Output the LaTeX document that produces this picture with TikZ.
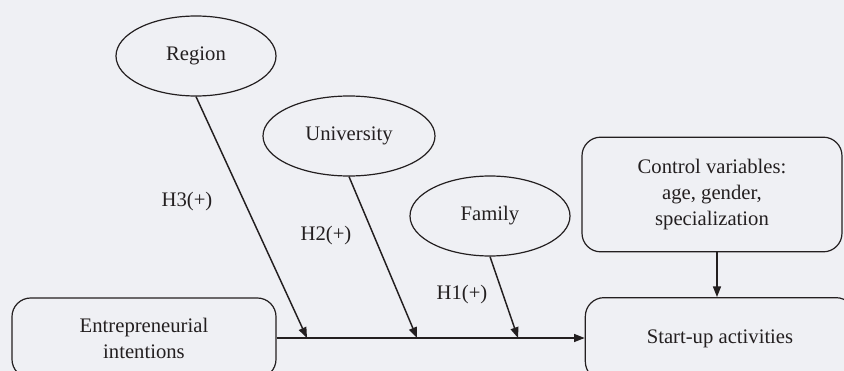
\documentclass[tikz,border=0pt]{standalone}
\usepackage{fontspec}
\setmainfont{Liberation Serif}
\usetikzlibrary{shapes.geometric,arrows.meta}
\definecolor{bg}{HTML}{EFF0F4}
\definecolor{ink}{HTML}{231F20}
\begin{document}
\begin{tikzpicture}[x=0.75pt,y=-0.75pt,
  line width=1.1pt, draw=ink, text=ink,
  every node/.style={font=\fontsize{15.5}{19.5}\selectfont, text=ink},
  oval/.style={ellipse, draw=ink, line width=0.9pt, inner sep=0pt},
  rbox/.style={rectangle, rounded corners=14pt, draw=ink, line width=0.9pt, inner sep=0pt, align=center},
  arr/.style={-{Triangle[length=8pt,width=6pt]}, draw=ink, line width=1.1pt}]
\fill[bg] (0,0) rectangle (844,371);
\useasboundingbox (0,0) rectangle (844,371);
\node[oval, minimum width=120pt, minimum height=60pt] (region) at (196,56) {Region};
\node[oval, minimum width=129pt, minimum height=60pt] (univ) at (349,136) {University};
\node[oval, minimum width=120pt, minimum height=60pt] (family) at (490,216) {Family};
\node[rbox, minimum width=195pt, minimum height=86pt] (ctrl) at (712,194.5) {Control variables:\\age, gender,\\specialization};
\node[rbox, minimum width=202pt, minimum height=62pt] (start) at (720,339) {Start-up activities};
\node[rbox, minimum width=198pt, minimum height=60pt] (ent) at (144,338) {Entrepreneurial\\intentions};
\coordinate (m3) at (307,338);
\coordinate (m2) at (417,338);
\coordinate (m1) at (518,338);
\draw[arr] (ent.east) -- (start.west |- ent.east);
\draw[arr] (region.south) -- (m3);
\draw[arr] (univ.south) -- (m2);
\draw[arr] (family.south) -- (m1);
\draw[arr] (ctrl.south -| 717,0) -- (start.north -| 717,0);
\node (h3) at (187,202) {H3(+)};
\node (h2) at (326,236) {H2(+)};
\node (h1) at (462,295) {H1(+)};
\end{tikzpicture}
\end{document}
